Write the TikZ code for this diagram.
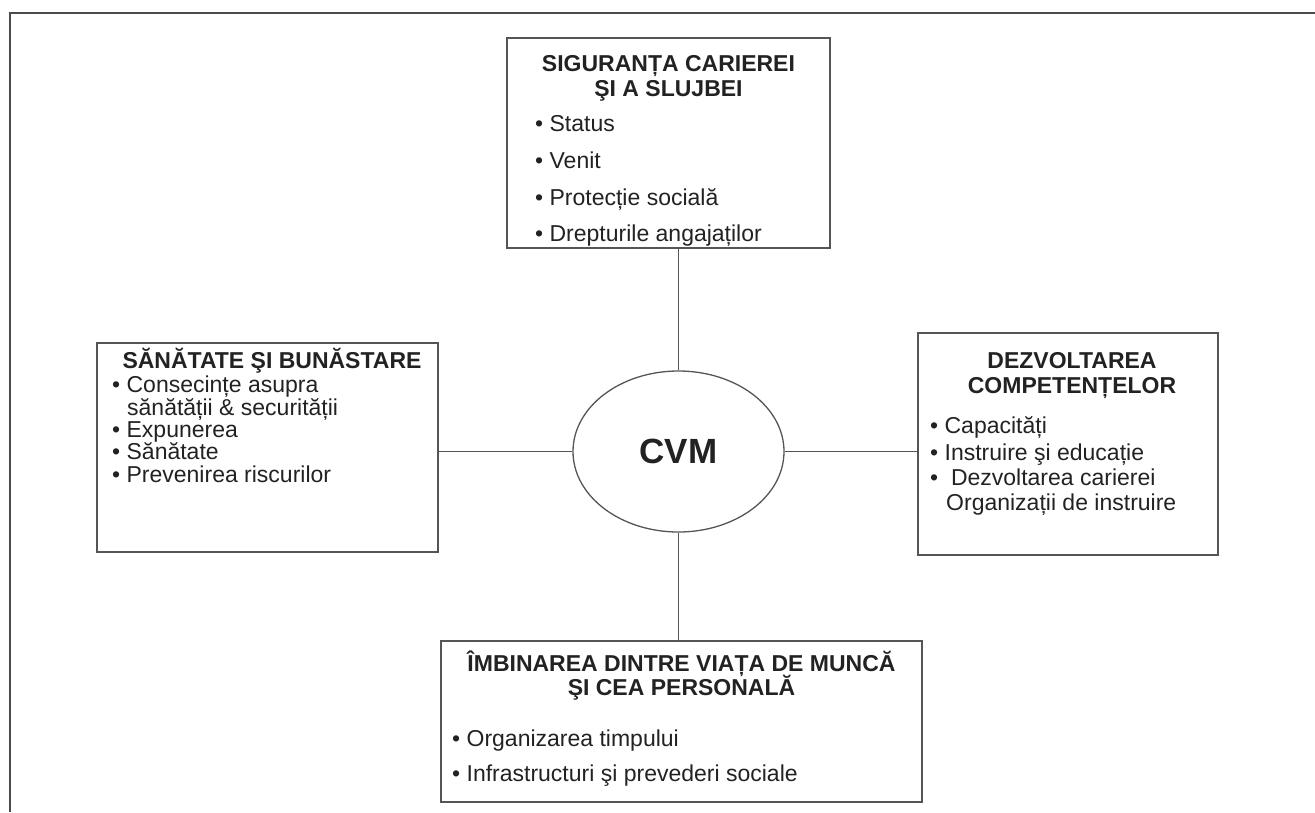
\documentclass[tikz,border=0pt]{standalone}
\usepackage{fontspec}
\setmainfont{Liberation Sans}
\usetikzlibrary{shapes.geometric}
\definecolor{ink}{HTML}{222222}
\definecolor{edge}{HTML}{555555}
\tikzset{
  box/.style={draw=edge, line width=1.3pt, inner sep=0pt},
  head/.style={font=\bfseries\fontsize{23}{25}\selectfont, text=ink, anchor=base, inner sep=0pt},
  item/.style={font=\fontsize{23}{25}\selectfont, text=ink, anchor=base west, inner sep=0pt},
  conn/.style={draw=edge, line width=1.2pt},
  frame/.style={draw=edge!90!black, line width=2pt}
}
\begin{document}
\begin{tikzpicture}[x=1pt,y=-1pt]
\useasboundingbox (0,0) rectangle (1315,812);
% frame (top and left edges only visible)
\coordinate (fa) at (10,812);
\coordinate (fb) at (10,13);
\coordinate (fc) at (1315,13);
\draw[frame] (fa) -- (fb) -- (fc);

% boxes
\node[box, minimum width=323pt, minimum height=210pt] (top) at (668.5,143) {};
\node[box, minimum width=341pt, minimum height=209pt] (left) at (267.5,447.5) {};
\node[box, minimum width=300pt, minimum height=222pt] (right) at (1068,444) {};
\node[box, minimum width=481pt, minimum height=161pt] (bot) at (681.5,721.5) {};

% central ellipse
\node[ellipse, draw=edge, line width=1.3pt, minimum width=211pt, minimum height=161pt, inner sep=0pt,
      font=\bfseries\fontsize{35}{35}\selectfont, text=ink] (cvm) at (678.5,451.5) {CVM};

% connectors
\draw[conn] (cvm.north) -- (cvm.north |- top.south);
\draw[conn] (cvm.south) -- (cvm.south |- bot.north);
\draw[conn] (cvm.west) -- (cvm.west -| left.east);
\draw[conn] (cvm.east) -- (cvm.east -| right.west);

% top box text
\node[head] (t1) at (668.5,71) {SIGURANȚA CARIEREI};
\node[head] (t2) at (668.5,96) {ŞI A SLUJBEI};
\node[item] (t3) at (535,131) {• Status};
\node[item] (t4) at (535,168) {• Venit};
\node[item] (t5) at (535,205) {• Protecție socială};
\node[item] (t6) at (535,241) {• Drepturile angajaților};

% left box text
\node[head] (l1) at (272,368) {SĂNĂTATE ŞI BUNĂSTARE};
\node[item] (l2) at (112,392) {• Consecințe asupra};
\node[item] (l3) at (127,415) {sănătății \& securității};
\node[item] (l4) at (112,437) {• Expunerea};
\node[item] (l5) at (112,459) {• Sănătate};
\node[item] (l6) at (112,482) {• Prevenirea riscurilor};

% right box text
\node[head] (r1) at (1072,368) {DEZVOLTAREA};
\node[head] (r2) at (1072,393) {COMPETENȚELOR};
\node[item] (r3) at (930,433) {• Capacități};
\node[item] (r4) at (930,460) {• Instruire şi educație};
\node[item] (r5) at (930,485) {•\ \ Dezvoltarea carierei};
\node[item] (r6) at (946,510) {Organizații de instruire};

% bottom box text
\node[head] (b1) at (681.5,671) {ÎMBINAREA DINTRE VIAȚA DE MUNCĂ};
\node[head] (b2) at (681.5,695) {ŞI CEA PERSONALĂ};
\node[item] (b3) at (452,746) {• Organizarea timpului};
\node[item] (b4) at (452,781) {• Infrastructuri şi prevederi sociale};
\end{tikzpicture}
\end{document}
